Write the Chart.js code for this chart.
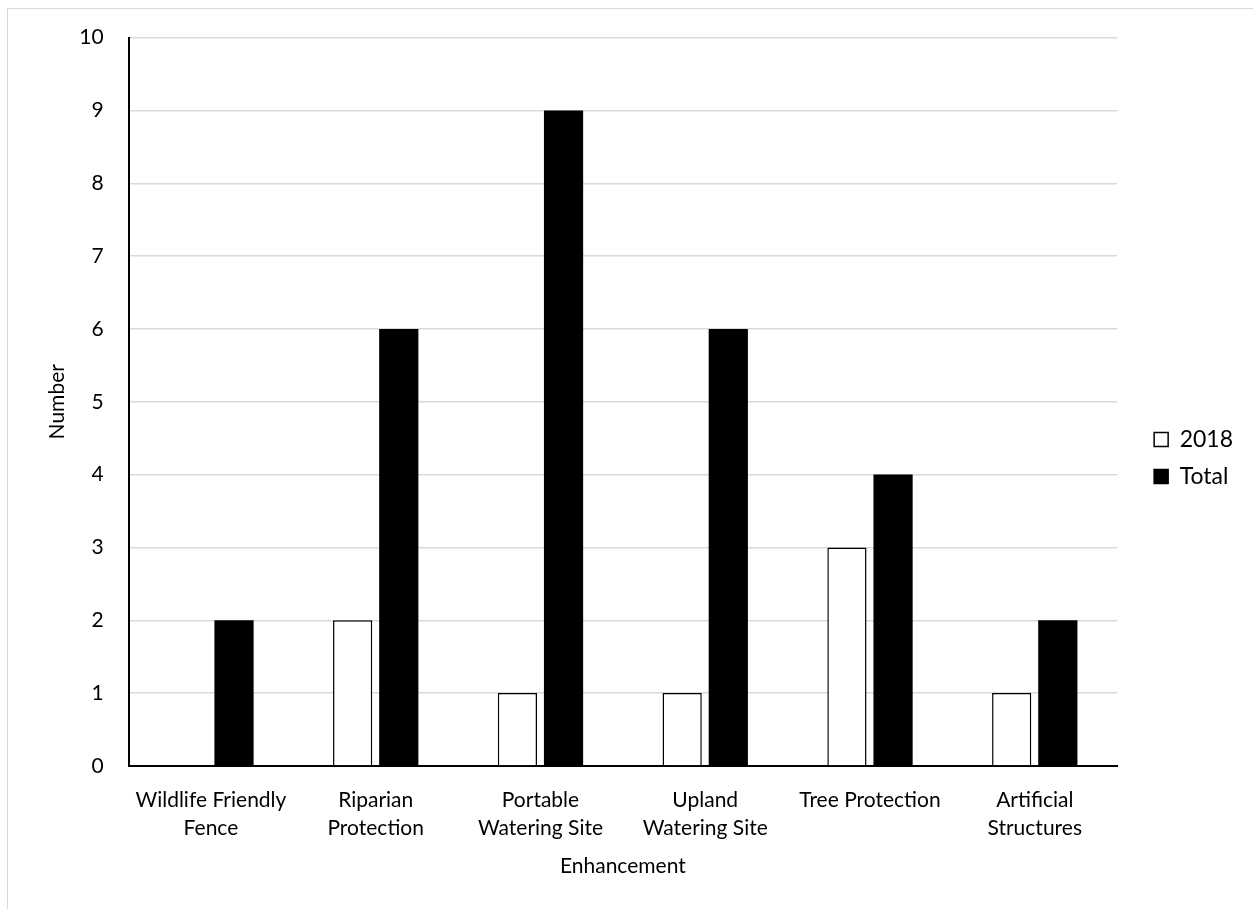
<!DOCTYPE html>
<html>
<head>
<meta charset="utf-8">
<script src="https://cdn.jsdelivr.net/npm/chart.js@4.4.1/dist/chart.umd.min.js"></script>
<style>
    body { margin: 0; background: #fff; }
    #frame {
        position: absolute; left: 7px; top: 8px; width: 1260px; height: 920px;
        border: 1px solid #d9d9d9; box-sizing: border-box;
    }
    #wrap { position: absolute; left: 0; top: 0; width: 1253px; height: 909px; }
</style>
</head>
<body>
<div id="frame"></div>
<div id="wrap"><canvas id="myChart"></canvas></div>
<script>
const categories = [
    ['Wildlife Friendly', 'Fence'],
    ['Riparian', 'Protection'],
    ['Portable', 'Watering Site'],
    ['Upland', 'Watering Site'],
    'Tree Protection',
    ['Artificial', 'Structures']
];
const values2018 = [0, 2, 1, 1, 3, 1];
const valuesTotal = [2, 6, 9, 6, 4, 2];
const yTicks = [0, 1, 2, 3, 4, 5, 6, 7, 8, 9, 10];

Chart.defaults.font.family = 'Lato, "Open Sans", sans-serif';
Chart.defaults.color = '#000';

const ctx = document.getElementById('myChart').getContext('2d');
const enhancementChart = new Chart(ctx, {
    type: 'bar',
    data: {
        labels: categories,
        datasets: [
            {
                label: '2018',
                data: values2018,
                backgroundColor: '#fff',
                borderColor: '#000',
                borderWidth: 1.5,
                categoryPercentage: 0.56,
                barPercentage: 0.85
            },
            {
                label: 'Total',
                data: valuesTotal,
                backgroundColor: '#000',
                borderColor: '#000',
                borderWidth: 0,
                categoryPercentage: 0.56,
                barPercentage: 0.85
            }
        ]
    },
    options: {
        responsive: true,
        maintainAspectRatio: false,
        animation: false,
        layout: {
            autoPadding: false,
            padding: { top: 37, right: 10, bottom: 30, left: 45 }
        },
        plugins: {
            tooltip: { enabled: false },
            legend: {
                position: 'right',
                labels: {
                    boxWidth: 14,
                    boxHeight: 14,
                    padding: 14,
                    font: { size: 23 },
                    generateLabels: function (chart) {
                        return chart.data.datasets.map(function (ds, i) {
                            return {
                                text: ds.label,
                                fillStyle: ds.backgroundColor,
                                strokeStyle: '#000',
                                lineWidth: 1.5,
                                datasetIndex: i
                            };
                        });
                    }
                }
            }
        },
        scales: {
            x: {
                grid: { display: false, drawTicks: false },
                border: { color: '#000', width: 2 },
                ticks: { font: { size: 21, lineHeight: 1.33 }, padding: 20, maxRotation: 0, autoSkip: false },
                title: {
                    display: true,
                    text: 'Enhancement',
                    font: { size: 21 },
                    // tick padding is reserved twice, so pull the title back up
                    padding: { top: -8, bottom: 0 }
                }
            },
            y: {
                min: 0,
                max: 10,
                afterBuildTicks: function (axis) {
                    axis.ticks = yTicks.map(function (v) { return { value: v }; });
                },
                grid: { color: '#d9d9d9', lineWidth: 1.5, drawTicks: false },
                border: { color: '#000', width: 2 },
                ticks: { font: { size: 21 }, padding: 25 },
                title: {
                    display: true,
                    text: 'Number',
                    font: { size: 21 },
                    padding: { top: 0, bottom: -16 }
                }
            },
            // empty right-hand axis: only keeps a gap between plot and legend
            gap: {
                position: 'right',
                display: true,
                grid: { display: false, drawTicks: false },
                border: { display: false },
                ticks: { display: false },
                afterFit: function (scale) { scale.width = 23; }
            }
        }
    }
});
</script>
</body>
</html>
